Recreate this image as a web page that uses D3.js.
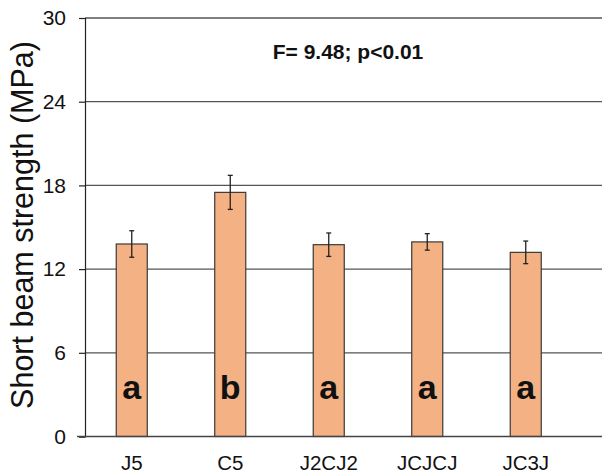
<!DOCTYPE html>
<html>
<head>
<meta charset="utf-8">
<script src="https://cdn.jsdelivr.net/npm/d3@7/dist/d3.min.js"></script>
<style>
  html, body { margin: 0; padding: 0; background: #fff; }
  svg { display: block; font-family: "Liberation Sans", Arial, sans-serif; }
</style>
</head>
<body>
<svg id="chart" width="602" height="475"></svg>
<script>
// Short beam strength by laminate stacking sequence
const categories = ["J5", "C5", "J2CJ2", "JCJCJ", "JC3J"];
const means      = [13.8, 17.5, 13.75, 13.95, 13.2];
const errors     = [0.95, 1.22, 0.84, 0.59, 0.81];
const groups     = ["a", "b", "a", "a", "a"];
const yTicks     = [0, 6, 12, 18, 24, 30];
const statsText  = "F= 9.48; p<0.01";

const svg = d3.select("#chart");
const plot = { left: 85, right: 602, top: 18, bottom: 436.5 };

const x = d3.scaleBand()
  .domain(categories)
  .range([82.5, 575])
  .paddingInner(0.685)
  .paddingOuter(0.3425);

const y = d3.scaleLinear()
  .domain([0, 30])
  .range([plot.bottom, plot.top]);

// horizontal gridlines
svg.append("g")
  .selectAll("line")
  .data(yTicks.filter(d => d > 0))
  .join("line")
  .attr("x1", plot.left).attr("x2", plot.right)
  .attr("y1", d => y(d)).attr("y2", d => y(d))
  .attr("stroke", "#555").attr("stroke-width", 1.3);

// y axis
const yAxis = svg.append("g")
  .attr("transform", `translate(${plot.left},0)`)
  .call(d3.axisLeft(y).tickValues(yTicks).tickSize(6).tickPadding(13));
yAxis.select(".domain").attr("stroke", "#222").attr("stroke-width", 1.2);
yAxis.selectAll(".tick line").attr("stroke", "#222").attr("stroke-width", 1.2);
yAxis.selectAll(".tick text")
  .attr("font-size", 21).attr("fill", "#111")
  .attr("font-family", "Liberation Sans, Arial, sans-serif");

// bars
svg.append("g")
  .selectAll("rect")
  .data(categories)
  .join("rect")
  .attr("x", d => x(d))
  .attr("width", x.bandwidth())
  .attr("y", (d, i) => y(means[i]))
  .attr("height", (d, i) => y(0) - y(means[i]))
  .attr("fill", "#F4B183")
  .attr("stroke", "#3a3a3a")
  .attr("stroke-width", 1.2);

// x axis baseline
svg.append("line")
  .attr("x1", 77).attr("x2", plot.right)
  .attr("y1", y(0)).attr("y2", y(0))
  .attr("stroke", "#444").attr("stroke-width", 1.3);

// error bars
const eb = svg.append("g").attr("stroke", "#222").attr("stroke-width", 1.3);
categories.forEach((c, i) => {
  const cx = x(c) + x.bandwidth() / 2;
  const hi = y(means[i] + errors[i]);
  const lo = y(means[i] - errors[i]);
  eb.append("line").attr("x1", cx).attr("x2", cx).attr("y1", hi).attr("y2", lo);
  eb.append("line").attr("x1", cx - 2.5).attr("x2", cx + 2.5).attr("y1", hi).attr("y2", hi);
  eb.append("line").attr("x1", cx - 2.5).attr("x2", cx + 2.5).attr("y1", lo).attr("y2", lo);
});

// group letters inside bars
svg.append("g")
  .selectAll("text")
  .data(categories)
  .join("text")
  .attr("x", d => x(d) + x.bandwidth() / 2)
  .attr("y", 399)
  .attr("text-anchor", "middle")
  .attr("font-size", 34)
  .attr("font-weight", "bold")
  .attr("fill", "#111")
  .text((d, i) => groups[i]);

// category labels
svg.append("g")
  .selectAll("text")
  .data(categories)
  .join("text")
  .attr("x", d => x(d) + x.bandwidth() / 2)
  .attr("y", 470)
  .attr("text-anchor", "middle")
  .attr("font-size", 20.5)
  .attr("fill", "#111")
  .text(d => d);

// statistics annotation
svg.append("text")
  .attr("x", 348).attr("y", 59)
  .attr("text-anchor", "middle")
  .attr("font-size", 21)
  .attr("font-weight", "bold")
  .attr("fill", "#111")
  .text(statsText);

// y axis title
svg.append("text")
  .attr("transform", `translate(33,225) rotate(-90)`)
  .attr("text-anchor", "middle")
  .attr("font-size", 30.5)
  .attr("fill", "#111")
  .text("Short beam strength (MPa)");
</script>
</body>
</html>
